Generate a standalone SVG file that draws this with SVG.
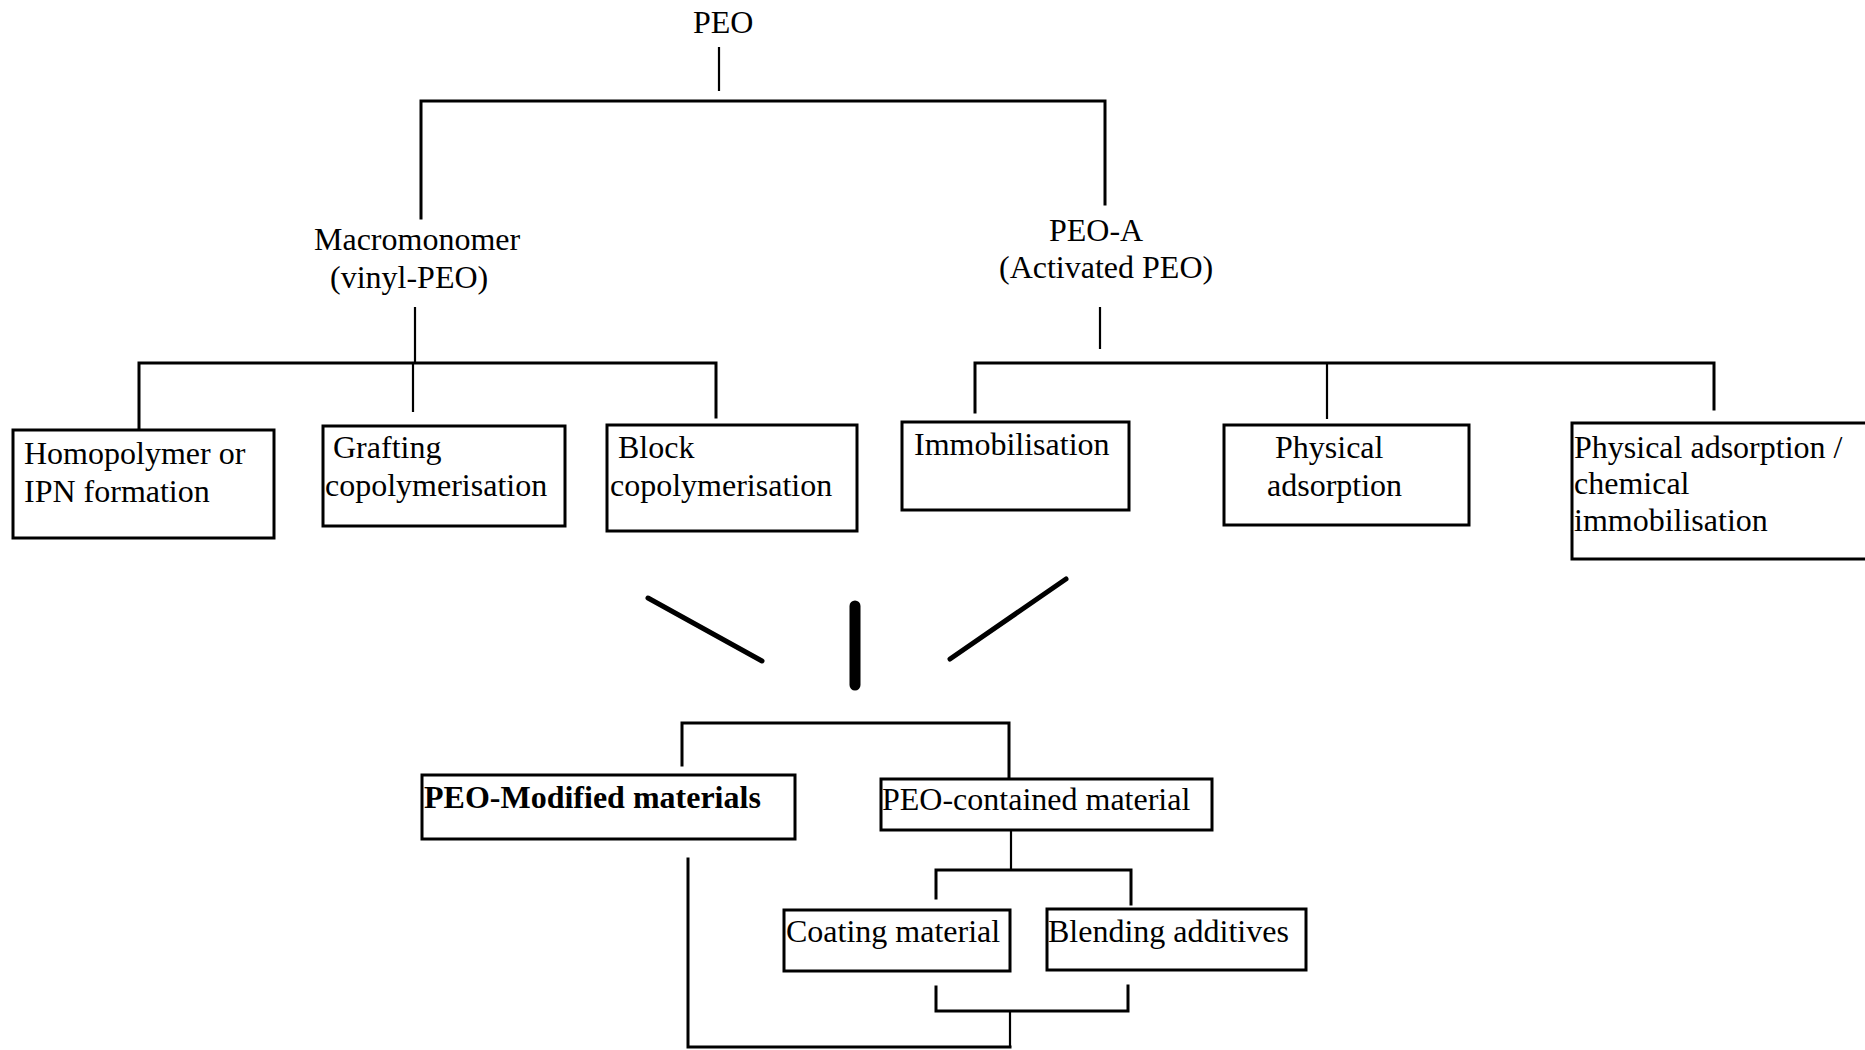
<svg xmlns="http://www.w3.org/2000/svg" width="1865" height="1050" viewBox="0 0 1865 1050">
  <style>
    .lbl { font-family: "Liberation Serif", "Times New Roman", serif; font-size: 32px; fill: #000; }
    .bold { font-weight: bold; }
    .box { fill: #fff; stroke: #000; stroke-width: 3; }
    .ln { fill: none; stroke: #000; stroke-width: 3; stroke-linecap: square; }
    .thin { fill: none; stroke: #000; stroke-width: 2.2; }
    .mark { fill: none; stroke: #000; stroke-width: 5; stroke-linecap: round; }
    .bar { fill: none; stroke: #000; stroke-width: 11; stroke-linecap: round; }
  </style>
  <rect width="1865" height="1050" fill="#fff"/>

  <!-- tree connectors -->
  <g id="connectors">
    <!-- PEO splits into macromonomer and activated PEO -->
    <line class="thin" x1="719" y1="47" x2="719" y2="91"/>
    <polyline class="ln" points="421,218 421,101 1105,101 1105,204"/>
    <!-- macromonomer branch -->
    <line class="thin" x1="415" y1="307" x2="415" y2="363"/>
    <polyline class="ln" points="139,430 139,363 716,363 716,417"/>
    <line class="thin" x1="413" y1="363" x2="413" y2="412"/>
    <!-- activated PEO branch -->
    <line class="thin" x1="1100" y1="307" x2="1100" y2="349"/>
    <polyline class="ln" points="975,412 975,363 1714,363 1714,409"/>
    <line class="thin" x1="1327" y1="363" x2="1327" y2="419"/>
    <!-- converging marks -->
    <line class="mark" x1="648" y1="598" x2="762" y2="661"/>
    <line class="bar" x1="855" y1="606" x2="855" y2="685"/>
    <line class="mark" x1="1066" y1="579" x2="950" y2="659"/>
    <!-- split into modified / contained materials -->
    <polyline class="ln" points="682,765 682,723 1009,723 1009,779"/>
    <!-- contained material split -->
    <line class="thin" x1="1011" y1="830" x2="1011" y2="870"/>
    <polyline class="ln" points="936,898 936,870 1131,870 1131,904"/>
    <!-- coating / blending rejoin -->
    <polyline class="ln" points="936,987 936,1011 1128,1011 1128,986"/>
    <line class="thin" x1="1010" y1="1011" x2="1010" y2="1047"/>
    <polyline class="ln" points="688,859 688,1047 1010,1047"/>
  </g>

  <!-- top labels -->
  <g id="peo"><text class="lbl" x="693" y="33">PEO</text></g>
  <g id="macromonomer">
    <text class="lbl" x="314" y="250">Macromonomer</text>
    <text class="lbl" x="330" y="288">(vinyl-PEO)</text>
  </g>
  <g id="peo-a">
    <text class="lbl" x="1049" y="241">PEO-A</text>
    <text class="lbl" x="999" y="278">(Activated PEO)</text>
  </g>

  <!-- macromonomer routes -->
  <g id="homopolymer">
    <rect class="box" x="13" y="430" width="261" height="108"/>
    <text class="lbl" x="24" y="464">Homopolymer or</text>
    <text class="lbl" x="24" y="502">IPN formation</text>
  </g>
  <g id="grafting">
    <rect class="box" x="323" y="426" width="242" height="100"/>
    <text class="lbl" x="333" y="458">Grafting</text>
    <text class="lbl" x="325" y="496">copolymerisation</text>
  </g>
  <g id="block">
    <rect class="box" x="607" y="425" width="250" height="106"/>
    <text class="lbl" x="618" y="458">Block</text>
    <text class="lbl" x="610" y="496">copolymerisation</text>
  </g>

  <!-- activated PEO routes -->
  <g id="immobilisation">
    <rect class="box" x="902" y="422" width="227" height="88"/>
    <text class="lbl" x="914" y="455">Immobilisation</text>
  </g>
  <g id="physical-adsorption">
    <rect class="box" x="1224" y="425" width="245" height="100"/>
    <text class="lbl" x="1275" y="458">Physical</text>
    <text class="lbl" x="1267" y="496">adsorption</text>
  </g>
  <g id="physical-chemical">
    <rect class="box" x="1572" y="423" width="300" height="136"/>
    <text class="lbl" x="1574" y="458">Physical adsorption /</text>
    <text class="lbl" x="1574" y="494">chemical</text>
    <text class="lbl" x="1574" y="531">immobilisation</text>
  </g>

  <!-- resulting materials -->
  <g id="peo-modified">
    <rect class="box" x="422" y="775" width="373" height="64"/>
    <text class="lbl bold" x="424" y="808">PEO-Modified materials</text>
  </g>
  <g id="peo-contained">
    <rect class="box" x="881" y="779" width="331" height="51"/>
    <text class="lbl" x="882" y="810">PEO-contained material</text>
  </g>
  <g id="coating">
    <rect class="box" x="784" y="910" width="226" height="61"/>
    <text class="lbl" x="786" y="942">Coating material</text>
  </g>
  <g id="blending">
    <rect class="box" x="1047" y="909" width="259" height="61"/>
    <text class="lbl" x="1048" y="942">Blending additives</text>
  </g>
</svg>
